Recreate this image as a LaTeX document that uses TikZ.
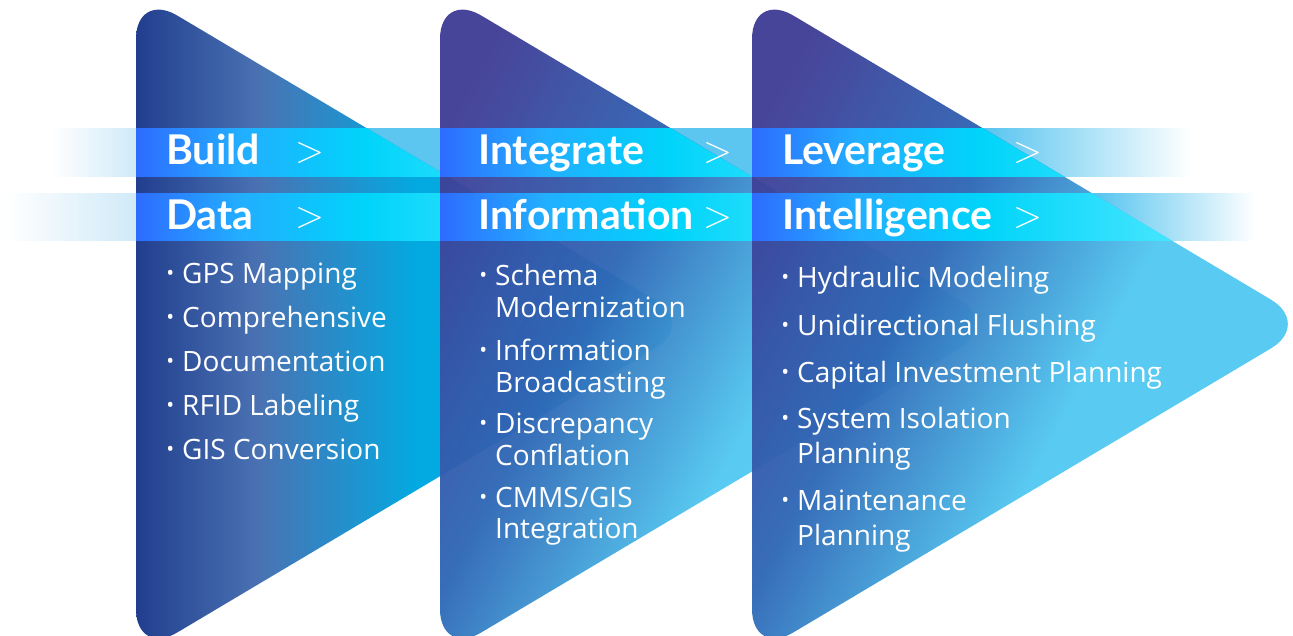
\documentclass[tikz,border=0pt]{standalone}
\usepackage{fontspec}
\setmainfont{Open Sans}
\newfontfamily\headfont{Lato}
\newfontfamily\gtfont{Latin Modern Roman}
\usetikzlibrary{positioning}

\definecolor{trione}{HTML}{213E8E}
\definecolor{trionemid}{HTML}{4A72B3}
\definecolor{trionelight}{HTML}{03A9E1}
\definecolor{tridark}{HTML}{403D95}
\definecolor{trimid}{HTML}{2F68B6}
\definecolor{trilight}{HTML}{52C8F1}
\definecolor{stripblue}{HTML}{2E6CFF}
\definecolor{stripsky}{HTML}{22AEFF}
\definecolor{stripcyan}{HTML}{00D4FA}
\definecolor{striplight}{HTML}{6AEEFF}
\definecolor{bandpale}{HTML}{D0EAF8}
\definecolor{bandmid}{HTML}{5CC6F0}

\pgfdeclarehorizontalshading{trioneshade}{100bp}{color(0bp)=(trione); color(25bp)=(trione); color(36bp)=(trionemid); color(50bp)=(trionelight); color(100bp)=(trionelight)}
\pgfdeclarehorizontalshading{stripshade}{100bp}{color(0bp)=(stripblue); color(25bp)=(stripblue); color(35bp)=(stripsky); color(47bp)=(stripcyan); color(75bp)=(striplight); color(100bp)=(striplight)}
\pgfdeclareverticalshading{trishade}{100bp}{color(0bp)=(trilight); color(44bp)=(trilight); color(60bp)=(trimid); color(78bp)=(tridark); color(100bp)=(tridark)}

\newcommand{\tri}[1]{(#1,-9) -- (#1+560,324) -- (#1,657) -- cycle}
\newcommand{\bul}{\llap{\raisebox{3pt}{\fontsize{21}{21}\selectfont •}\hspace{8pt}}}

\begin{document}
\begin{tikzpicture}[x=1pt,y=-1pt,
    heading/.style={inner sep=0pt, anchor=base west, text=white,
      font=\headfont\bfseries\fontsize{41}{41}\selectfont},
    chevron/.style={inner sep=0pt, text=white, font=\gtfont\fontsize{38}{38}\selectfont},
    item/.style={inner sep=0pt, anchor=base west, text=white,
      font=\fontsize{28}{28}\selectfont},
    tribox/.style={rounded corners=48pt}]
  \useasboundingbox (0,0) rectangle (1293,635);
  \clip (0,0) rectangle (1293,635);

  % bands behind
  \shade[left color=white, right color=bandpale] (52,128) rectangle (136,176);
  \fill[bandmid] (136,128) rectangle (990,176);
  \shade[left color=bandmid, right color=white] (990,128) rectangle (1190,176);
  \shade[left color=white, right color=bandpale] (5,193) rectangle (136,240);
  \fill[bandmid] (136,193) rectangle (1100,240);
  \shade[left color=bandmid, right color=white] (1100,193) rectangle (1255,240);

  % triangles
  \shade[tribox, shading=trioneshade] \tri{136};
  \begin{scope}
    \clip[tribox] \tri{136};
    \shade[shading=stripshade] (136,128) rectangle (656,176);
    \shade[shading=stripshade] (136,193) rectangle (656,240);
  \end{scope}

  \shade[tribox, shading=trishade, shading angle=62, fill opacity=0.96] \tri{440};
  \begin{scope}
    \clip[tribox] \tri{440};
    \shade[shading=stripshade] (440,128) rectangle (960,176);
    \shade[shading=stripshade] (440,193) rectangle (960,240);
  \end{scope}

  \shade[tribox, shading=trishade, shading angle=62, fill opacity=0.96] \tri{752};
  \begin{scope}
    \clip[tribox] \tri{752};
    \shade[shading=stripshade] (752,128) rectangle (1272,176);
    \shade[shading=stripshade] (752,193) rectangle (1272,240);
  \end{scope}

  % headings
  \node[heading] (build) at (166,164) {Build};
  \node[heading] (data) at ([yshift=-65pt]build.base west) {Data};
  \node[heading] (integrate) at (478,164) {Integrate};
  \node[heading] (information) at ([yshift=-65pt]integrate.base west) {Information};
  \node[heading] (leverage) at (782,164) {Leverage};
  \node[heading] (intelligence) at ([yshift=-65pt]leverage.base west) {Intelligence};

  \node[chevron] (buildgt) at (310,153) {>};
  \node[chevron] (datagt) at (310,218) {>};
  \node[chevron] (integrategt) at (718,153) {>};
  \node[chevron] (informationgt) at (718,218) {>};
  \node[chevron] (leveragegt) at (1028,153) {>};
  \node[chevron] (intelligencegt) at (1028,218) {>};

  % build data
  \node[item] (gps) at (182,283) {\bul GPS Mapping};
  \node[item] (comprehensive) at ([yshift=-44pt]gps.base west) {\bul Comprehensive};
  \node[item] (documentation) at ([yshift=-44pt]comprehensive.base west) {\bul Documentation};
  \node[item] (rfid) at ([yshift=-44pt]documentation.base west) {\bul RFID Labeling};
  \node[item] (gisconv) at ([yshift=-44pt]rfid.base west) {\bul GIS Conversion};

  % integrate information
  \node[item] (schema) at (495,285) {\bul Schema};
  \node[item] (schemab) at ([yshift=-32pt]schema.base west) {Modernization};
  \node[item] (infobc) at ([yshift=-43pt]schemab.base west) {\bul Information};
  \node[item] (infobcb) at ([yshift=-32pt]infobc.base west) {Broadcasting};
  \node[item] (discrep) at ([yshift=-41pt]infobcb.base west) {\bul Discrepancy};
  \node[item] (discrepb) at ([yshift=-32pt]discrep.base west) {Conflation};
  \node[item] (cmms) at ([yshift=-42pt]discrepb.base west) {\bul CMMS/GIS};
  \node[item] (cmmsb) at ([yshift=-31pt]cmms.base west) {Integration};

  % leverage intelligence
  \node[item] (hydraulic) at (797,287) {\bul Hydraulic Modeling};
  \node[item] (flushing) at ([yshift=-48pt]hydraulic.base west) {\bul Unidirectional Flushing};
  \node[item] (capital) at ([yshift=-47pt]flushing.base west) {\bul Capital Investment Planning};
  \node[item] (isolation) at ([yshift=-46pt]capital.base west) {\bul System Isolation};
  \node[item] (isolationb) at ([yshift=-35pt]isolation.base west) {Planning};
  \node[item] (maintenance) at ([yshift=-47pt]isolationb.base west) {\bul Maintenance};
  \node[item] (maintenanceb) at ([yshift=-35pt]maintenance.base west) {Planning};
\end{tikzpicture}
\end{document}
